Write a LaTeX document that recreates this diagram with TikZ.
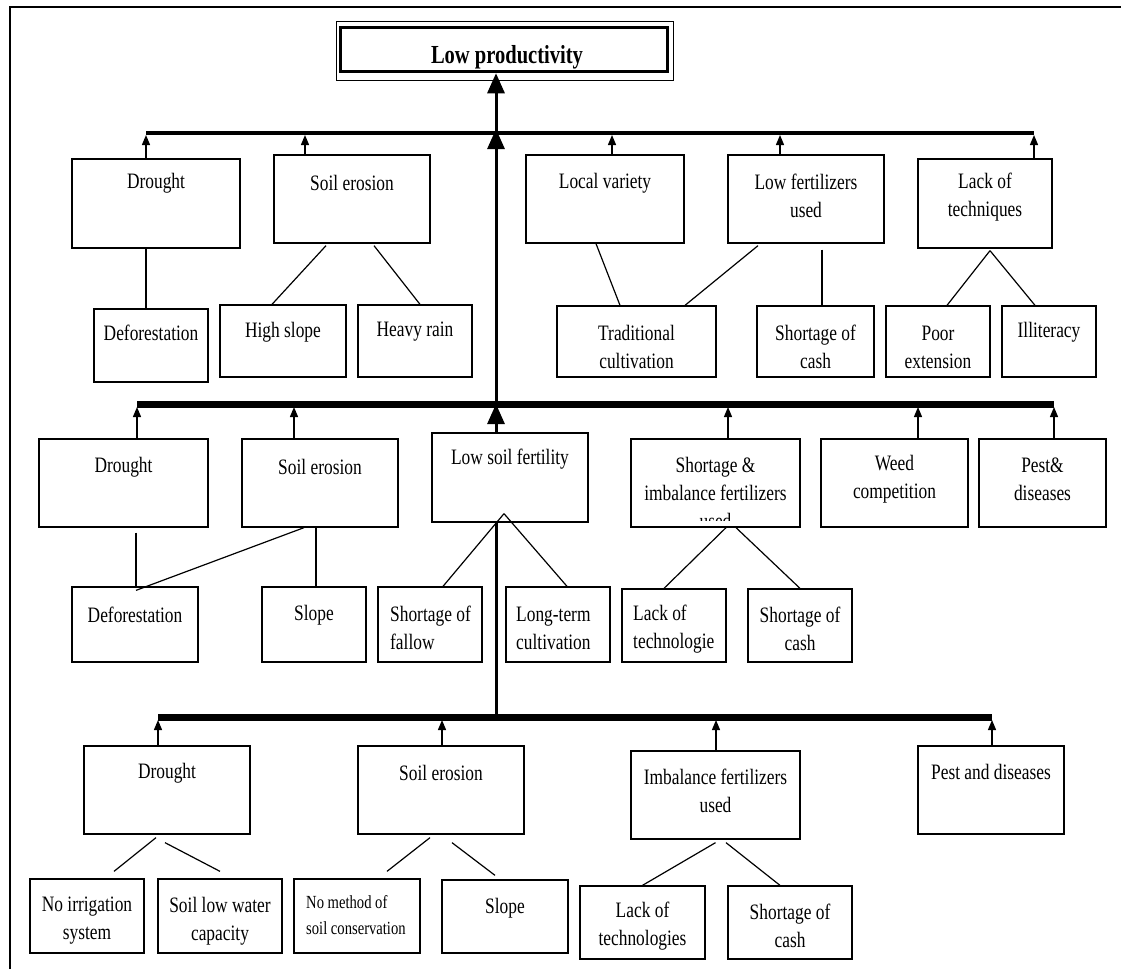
\documentclass[tikz,border=0pt]{standalone}
\usepackage{fontspec}
\setmainfont{Liberation Serif}[FakeStretch=0.79]
\usetikzlibrary{arrows.meta}

\tikzset{
  cbox/.style={draw, line width=1.3pt, inner sep=0pt},
  ctext/.style={inner sep=0pt, align=center, font=\fontsize{22}{28}\selectfont},
  conn/.style={line width=1.2pt},
  up/.style={line width=1.3pt, -{Triangle[width=8pt,length=10pt]}},
  bigup/.style={line width=3pt, -{Triangle[width=17pt,length=20pt]}},
}
% box from (x1,y1) to (x2,y2), in pixels of the picture
\newcommand\causebox[5]{%
  \node[cbox, minimum width={#4-#2}, minimum height={#5-#3}] (#1) at ({(#2+#4)/2},{(#3+#5)/2}) {};}
\newcommand\cause[7]{%
  \causebox{#1}{#2}{#3}{#4}{#5}
  \node[ctext] (#1-t) at ({(#2+#4)/2},#6) {#7};}

\begin{document}
\begin{tikzpicture}[x=1pt, y=-1pt, line join=miter]
  \useasboundingbox (0,0) rectangle (1121,969);
  \draw[line width=1.5pt] (10,969) -- (10,7) -- (1121,7);

  % goal
  \node[draw, line width=1pt, minimum width=337pt, minimum height=59pt] (lp-frame) at (504.5,50.5) {};
  \node[draw, line width=3.5pt, minimum width=327pt, minimum height=44pt] (lp) at (504,49.5) {};
  \node[inner sep=0pt, font=\bfseries\fontsize{26}{30}\selectfont] (lp-t) at (507,57) {Low productivity};

  % first level
  \cause{dr1}{72}{159}{240}{248}{183}{Drought}
  \cause{se1}{274}{155}{430}{243}{183}{Soil erosion}
  \cause{lv1}{526}{155}{684}{243}{183}{Local variety}
  \cause{lf1}{728}{155}{884}{243}{196}{Low fertilizers\\used}
  \cause{lt1}{918}{159}{1052}{248}{197}{Lack of\\techniques}
  \cause{def1}{94}{309}{208}{382}{333}{Deforestation}
  \cause{hs1}{220}{305}{346}{377}{332}{High slope}
  \cause{hr1}{358}{305}{472}{377}{332}{Heavy rain}
  \cause{tc1}{557}{306}{716}{377}{347}{Traditional\\cultivation}
  \cause{sc1}{757}{306}{874}{377}{347}{Shortage of\\cash}
  \cause{pe1}{886}{306}{990}{377}{347}{Poor\\extension}
  \cause{il1}{1002}{306}{1096}{377}{332}{Illiteracy}

  % second level
  \cause{dr2}{39}{439}{208}{527}{467}{Drought}
  \cause{se2}{242}{439}{398}{527}{467}{Soil erosion}
  \cause{lsf}{432}{433}{588}{522}{459}{Low soil fertility}
  \causebox{sif}{631}{439}{800}{527}
  \begin{scope}
    \clip (sif.north west) rectangle ([yshift=7pt]sif.south east);
    \node[ctext] (sif-t) at (715.5,493) {Shortage \&\\imbalance fertilizers\\used};
  \end{scope}
  \cause{wc}{821}{439}{968}{527}{479}{Weed\\competition}
  \cause{pd2}{979}{439}{1106}{527}{479}{Pest\&\\diseases}
  \cause{def2}{72}{587}{198}{662}{615}{Deforestation}
  \cause{sl2}{262}{587}{366}{662}{615}{Slope}
  \causebox{sf}{378}{587}{482}{662}
  \node[ctext, align=left, anchor=west] (sf-t) at (390,628) {Shortage of\\fallow};
  \causebox{ltc}{506}{587}{610}{662}
  \node[ctext, align=left, anchor=west] (ltc-t) at (516,628) {Long-term\\cultivation};
  \causebox{ltg}{622}{589}{726}{662}
  \node[ctext, align=left, anchor=west] (ltg-t) at (633,629) {Lack of\\technologie};
  \cause{sc2}{748}{589}{852}{662}{629}{Shortage of\\cash}

  % third level
  \cause{dr3}{84}{746}{250}{834}{773}{Drought}
  \cause{se3}{358}{746}{524}{834}{773}{Soil erosion}
  \cause{ifu}{631}{751}{800}{839}{791}{Imbalance fertilizers\\used}
  \cause{pd3}{918}{746}{1064}{834}{772}{Pest and diseases}
  \cause{ni}{30}{879}{144}{953}{921}{No irrigation\\system}
  \cause{sw}{158}{879}{282}{953}{921}{Soil low water\\capacity}
  \causebox{nm}{294}{879}{420}{953}
  \node[ctext, align=left, anchor=west, font=\fontsize{18.5}{26}\selectfont] (nm-t) at (306,915) {No method of\\soil conservation};
  \cause{sl3}{442}{880}{568}{953}{908}{Slope}
  \cause{lt3}{580}{886}{705}{959}{926}{Lack of\\technologies}
  \cause{sc3}{728}{886}{852}{959}{926}{Shortage of\\cash}

  % bars and trunk
  \coordinate (t1) at (496,133);
  \coordinate (t2) at (496,404);
  \coordinate (t3) at (496,717);
  \draw[line width=4pt] (146,133) -- (1034,133);
  \draw[line width=7pt] (137,404) -- (1054,404);
  \draw[line width=7pt] (158,717) -- (992,717);
  \draw[bigup] (t1) -- (t1 |- lp.south);
  \draw[bigup] (t2) -- ([yshift=4pt]t1);
  \draw[bigup] (t2 |- lsf.north) -- (t2);
  \draw[line width=3pt] (t3) -- (t3 |- lsf.south);

  \foreach \n/\x in {dr1/146, se1/305, lv1/612, lf1/780, lt1/1034}
    {\coordinate (a-\n) at (\x,133); \draw[up] (\n.north -| a-\n) -- ([yshift=-2pt]a-\n);}
  \foreach \n/\x in {dr2/137, se2/294, sif/728, wc/918, pd2/1054}
    {\coordinate (a-\n) at (\x,404); \draw[up] (\n.north -| a-\n) -- ([yshift=-3pt]a-\n);}
  \foreach \n/\x in {dr3/158, se3/442, ifu/716, pd3/992}
    {\coordinate (a-\n) at (\x,717); \draw[up] (\n.north -| a-\n) -- ([yshift=-3pt]a-\n);}

  % links between causes
  \draw[conn] ([xshift=-10pt]dr1.south) -- ([xshift=-5pt]def1.north);
  \draw[conn] ([xshift=-26pt,yshift=-2pt]se1.south) -- ([xshift=-11pt]hs1.north);
  \draw[conn] ([xshift=22pt,yshift=-2pt]se1.south) -- ([xshift=5pt]hr1.north);
  \draw[conn] ([xshift=-9pt]lv1.south) -- ([xshift=-16.5pt]tc1.north);
  \draw[conn] ([xshift=-48pt,yshift=-2pt]lf1.south) -- ([xshift=48.5pt]tc1.north);
  \draw[conn] ([xshift=16pt,yshift=-6pt]lf1.south) -- ([xshift=6.5pt]sc1.north);
  \draw[conn] ([xshift=5pt,yshift=-2pt]lt1.south) -- ([xshift=9pt]pe1.north);
  \draw[conn] ([xshift=5pt,yshift=-2pt]lt1.south) -- ([xshift=-14pt]il1.north);

  \draw[conn] ([xshift=12.5pt,yshift=-5pt]dr2.south) -- ([xshift=1pt]def2.north);
  \draw[conn] ([xshift=-16pt]se2.south) -- ([xshift=1pt,yshift=-4pt]def2.north);
  \draw[conn] ([xshift=-4pt]se2.south) -- ([xshift=2pt]sl2.north);
  \draw[conn] ([xshift=-6pt,yshift=9pt]lsf.south) -- ([xshift=13pt]sf.north);
  \draw[conn] ([xshift=-6pt,yshift=9pt]lsf.south) -- ([xshift=9pt]ltc.north);
  \draw[conn] ([xshift=10.5pt]sif.south) -- ([xshift=-10pt]ltg.north);
  \draw[conn] ([xshift=20.5pt]sif.south) -- (sc2.north);

  \draw[conn] ([xshift=-11pt,yshift=-3pt]dr3.south) -- ([xshift=27pt,yshift=7pt]ni.north);
  \draw[conn] ([xshift=-2pt,yshift=-8pt]dr3.south) -- ([yshift=7pt]sw.north);
  \draw[conn] ([xshift=-11pt,yshift=-3pt]se3.south) -- ([xshift=30pt,yshift=7pt]nm.north);
  \draw[conn] ([xshift=11pt,yshift=-8pt]se3.south) -- ([xshift=-10pt,yshift=4pt]sl3.north);
  \draw[conn] ([yshift=-3pt]ifu.south) -- (lt3.north);
  \draw[conn] ([xshift=10.5pt,yshift=-3pt]ifu.south) -- ([xshift=-10pt]sc3.north);
\end{tikzpicture}
\end{document}
